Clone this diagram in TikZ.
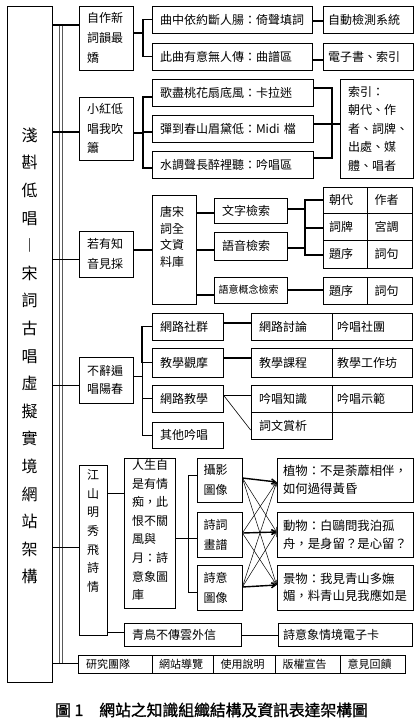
\documentclass[tikz,border=0pt]{standalone}
\usepackage{fontspec}
\setmainfont{Noto Sans CJK TC}
\newfontfamily\capfont[FakeBold=1.2]{Noto Sans CJK TC}
\usetikzlibrary{arrows.meta}
\tikzset{
  box/.style={draw, line width=0.75pt, inner sep=0pt, align=left, font=\fontsize{12}{18}\selectfont},
  txt/.style={inner sep=0pt, align=left, font=\fontsize{12}{18}\selectfont},
  ln/.style={line width=1.1pt},
  thn/.style={line width=0.6pt},
  spine/.style={line width=0.6pt, black!65},
  arr/.style={-{Straight Barb[length=4pt,width=5pt]}, line width=0.5pt},
  arrk/.style={-{Straight Barb[length=4pt,width=5pt]}, line width=1.4pt},
}
\newcommand\bx[7][]{%
  \pgfmathsetmacro\bxw{#5-#3}\pgfmathsetmacro\bxh{#6-#4}%
  \pgfmathsetmacro\bxt{#5-#3-16}%
  \pgfmathsetmacro\bxx{(#3+#5)/2}\pgfmathsetmacro\bxy{(#4+#6)/2}%
  \node[box,minimum width=\bxw pt,minimum height=\bxh pt,text width=\bxt pt,#1] (#2) at (\bxx,\bxy) {#7};}
\begin{document}
\begin{tikzpicture}[x=1pt,y=-1pt]
\useasboundingbox (0,0) rectangle (420,721);
\fill[white] (0,0) rectangle (420,721);

% main box
\bx{L}{7}{6}{52}{682}{}
\node[txt, align=center, font=\fontsize{16}{27.6}\selectfont] (Lt) at (29.5,356)
  {淺\\斟\\低\\唱\\︱\\宋\\詞\\古\\唱\\虛\\擬\\實\\境\\網\\站\\架\\構};

% spine
\coordinate (S1) at (59.5,25); \coordinate (S2) at (59.5,663);
\coordinate (S3) at (62.5,25); \coordinate (S4) at (62.5,663);
\draw[spine] (S1) -- (S2);
\draw[spine] (S3) -- (S4);

% level 1
\bx[font=\fontsize{12}{20}\selectfont]{B1}{79}{6}{133}{70}{自作新\\詞韻最\\嬌}
\bx[font=\fontsize{12}{19.5}\selectfont]{B2}{79}{97}{133}{160}{小紅低\\唱我吹\\簫}
\bx[font=\fontsize{12}{20}\selectfont]{B3}{79}{231}{133}{277}{若有知\\音見採}
\bx{B4}{79}{357}{133}{403}{不辭遍\\唱陽春}
\bx{B5}{79}{465}{107}{635}{}
\node[txt, align=center, font=\fontsize{12}{18.7}\selectfont] (B5t) at (93,531) {江\\山\\明\\秀\\飛\\詩\\情};

\draw[ln] (L.east |- 0,25) -- (B1.west |- 0,25);
\draw[ln] (L.east |- 0,132) -- (B2.west |- 0,132);
\draw[thn] (L.east |- 0,259) -- (B3.west |- 0,259);
\draw[thn] (L.east |- 0,385) -- (B4.west |- 0,385);
\draw[thn] (L.east |- 0,547) -- (B5.west |- 0,547);

% ---- section 1
\bx{C11}{152}{6}{312}{33}{曲中依約斷人腸：倚聲填詞}
\bx{C12}{152}{43}{312}{70}{此曲有意無人傳：曲譜區}
\bx[text width=80pt]{D11}{323}{6}{413}{33}{自動檢測系統}
\bx[text width=80pt]{D12}{323}{43}{413}{70}{電子書、索引}
\coordinate (V1) at (143,0);
\draw[ln] (B1.east |- 0,33) -- (V1 |- 0,33);
\draw[ln] (C11.west) -- (V1 |- C11.west) -- (V1 |- C12.west) -- (C12.west);
\draw[ln] (C11.east |- 0,21) -- (D11.west |- 0,21);
\draw[ln] (C12.east |- 0,60) -- (D12.west |- 0,60);

% ---- section 2
\bx{C21}{152}{79}{313}{106}{歌盡桃花扇底風：卡拉迷}
\bx{C22}{152}{115}{313}{142}{彈到春山眉黛低：Midi 檔}
\bx{C23}{152}{151}{313}{178}{水調聲長醉裡聽：吟唱區}
\bx[font=\fontsize{12}{18.5}\selectfont]{E2}{340}{79}{413}{178}{索引：\\朝代、作\\者、詞牌、\\出處、媒\\體、唱者}
\coordinate (V2) at (143,0);
\coordinate (V2r) at (332,0);
\draw[ln] (B2.east |- 0,133) -- (V2 |- 0,133);
\draw[ln] (C21.west |- 0,97) -- (V2 |- 0,97) -- (V2 |- 0,168) -- (C23.west |- 0,168);
\draw[ln] (C22.west |- 0,132) -- (V2 |- 0,132);
\draw[ln] (C21.east |- 0,88) -- (V2r |- 0,88) -- (V2r |- 0,158) -- (C23.east |- 0,158);
\draw[ln] (C22.east |- 0,124) -- (E2.west |- 0,124);

% ---- section 3
\bx{C3}{152}{195}{196}{304}{}
\node[txt, font=\fontsize{12}{16.7}\selectfont, anchor=west] (C3t) at (160,237) {唐宋\\詞全\\文資\\料庫};
\bx{D31}{214}{198}{287}{223}{文字檢索}
\bx{D32}{214}{232}{287}{260}{語音檢索}
\bx[font=\fontsize{10}{14}\selectfont, text width=64pt]{D33}{214}{277}{287}{303}{語意概念檢索}
\bx[text width=32pt]{T11}{323}{187}{367}{213}{朝代}
\bx[text width=30pt]{T12}{367}{187}{412}{213}{作者}
\bx[text width=32pt]{T21}{323}{213}{367}{240}{詞牌}
\bx[text width=30pt]{T22}{367}{213}{412}{240}{宮調}
\bx[text width=32pt]{T31}{323}{240}{367}{268}{題序}
\bx[text width=30pt]{T32}{367}{240}{412}{268}{詞句}
\bx[text width=32pt]{U1}{323}{277}{367}{304}{題序}
\bx[text width=30pt]{U2}{367}{277}{412}{304}{詞句}
\coordinate (V3) at (305,0);
\draw[ln] (B3.east |- 0,250) -- (C3.west |- 0,250);
\draw[ln] (C3.east |- 0,213) -- (D31.west |- 0,213);
\draw[ln] (C3.east |- 0,250) -- (D32.west |- 0,250);
\draw[ln] (C3.east |- 0,295) -- (D33.west |- 0,295);
\draw[ln] (D31.east |- 0,209) -- (V3 |- 0,209);
\draw[ln] (D32.east |- 0,248) -- (V3 |- 0,248);
\draw[ln] (T11.west |- 0,200) -- (V3 |- 0,200) -- (V3 |- 0,255) -- (T31.west |- 0,255);
\draw[ln] (T21.west |- 0,228) -- (V3 |- 0,228);
\draw[ln] (D33.east |- 0,290) -- (U1.west |- 0,290);

% ---- section 4
\bx{C41}{152}{313}{223}{340}{網路社群}
\bx{C42}{152}{348}{223}{377}{教學觀摩}
\bx{C43}{152}{385}{223}{412}{網路教學}
\bx{C44}{152}{422}{223}{448}{其他吟唱}
\bx{D41}{251}{313}{332}{340}{網路討論}
\bx[text width=70pt]{D41b}{332}{313}{412}{340}{吟唱社團}
\bx{D42}{251}{348}{332}{377}{教學課程}
\bx[text width=70pt]{D42b}{332}{348}{412}{377}{教學工作坊}
\bx{D43}{251}{385}{332}{412}{吟唱知識}
\bx[text width=70pt]{D43b}{332}{385}{412}{412}{吟唱示範}
\bx{D43c}{251}{412}{332}{439}{詞文賞析}
\coordinate (V4) at (142,0);
\draw[thn] (B4.east |- 0,376) -- (V4 |- 0,376);
\draw[ln] (C41.west) -- (V4 |- C41.west) -- (V4 |- C42.west) -- (C42.west);
\draw[thn] (V4 |- C42.west) -- (V4 |- C44.west) -- (C44.west);
\draw[thn] (V4 |- C43.west) -- (C43.west);
\draw[ln] (C41.east |- 0,323) -- (D41.west |- 0,323);
\draw[ln] (C42.east |- 0,358) -- (D42.west |- 0,358);
\draw[thn] (C43.east |- 0,395) -- (D43.west |- 0,395);
\draw[thn] (C43.east |- 0,395) -- (D43c.west |- 0,430);

% ---- section 5
\bx{C5}{124}{458}{175}{608}{}
\node[txt, font=\fontsize{12}{18.6}\selectfont, anchor=west] (C5t) at (132,530)
  {人生自\\是有情\\痴，此\\恨不關\\風與\\月：詩\\意象圖\\庫};
\bx[font=\fontsize{12}{20}\selectfont, text width=32pt]{F1}{197}{458}{242}{502}{攝影\\圖像}
\bx[font=\fontsize{12}{20}\selectfont, text width=32pt]{F2}{197}{512}{242}{557}{詩詞\\畫譜}
\bx[font=\fontsize{12}{20}\selectfont, text width=32pt]{F3}{197}{565}{242}{610}{詩意\\圖像}
\bx[font=\fontsize{12.4}{17.5}\selectfont, text width=124pt]{G1}{277}{458}{413}{502}{植物：不是荼蘼相伴，\\如何過得黃昏}
\bx[font=\fontsize{12.4}{17.5}\selectfont, text width=124pt]{G2}{277}{512}{413}{557}{動物：白鷗問我泊孤\\舟，是身留？是心留？}
\bx[font=\fontsize{12.4}{17.5}\selectfont, text width=124pt]{G3}{277}{565}{413}{610}{景物：我見青山多嫵\\媚，料青山見我應如是}
\bx{C52}{124}{623}{241}{646}{青鳥不傳雲外信}
\bx[text width=124pt]{G4}{278}{623}{412}{646}{詩意象情境電子卡}
\coordinate (V5) at (188,0);
\draw[thn] (B5.east |- 0,493) -- (C5.west |- 0,493);
\draw[thn] (B5.east |- 0,632) -- (C52.west |- 0,632);
\draw[thn] (C5.east |- 0,538) -- (F2.west |- 0,538);
\draw[thn] (F1.west |- 0,475) -- (V5 |- 0,475) -- (V5 |- 0,592) -- (F3.west |- 0,592);
\draw[thn] (C52.east |- 0,635) -- (G4.west |- 0,635);
\foreach \i/\yi in {1/478,2/533,3/587}{
  \foreach \j/\yj in {1/482,2/532,3/585}{
    \ifnum\i=\j
      \draw[arrk] (F\i.east |- 0,\yi) -- (G\j.west |- 0,\yj);
    \else
      \draw[arr] (F\i.east |- 0,\yi) -- (G\j.west |- 0,\yj);
    \fi
  }
}

% ---- bottom row
\tikzset{hbox/.style={font=\fontsize{11}{14}\selectfont}}
\bx[hbox]{H1}{78}{655}{152}{673}{研究團隊}
\bx[hbox,text width=47pt]{H2}{152}{655}{213}{673}{網站導覽}
\bx[hbox,text width=47pt]{H3}{213}{655}{275}{673}{使用說明}
\bx[hbox,text width=50pt]{H4}{275}{655}{340}{673}{版權宣告}
\bx[hbox,text width=50pt]{H5}{340}{655}{405}{673}{意見回饋}
\draw[thn] (L.east |- 0,663) -- (H1.west |- 0,663);

% caption
\node[inner sep=0pt, anchor=west, font=\capfont\fontsize{15.8}{18}\selectfont] (cap) at (55,710)
  {圖 1\hspace{16pt}網站之知識組織結構及資訊表達架構圖};
\end{tikzpicture}
\end{document}
